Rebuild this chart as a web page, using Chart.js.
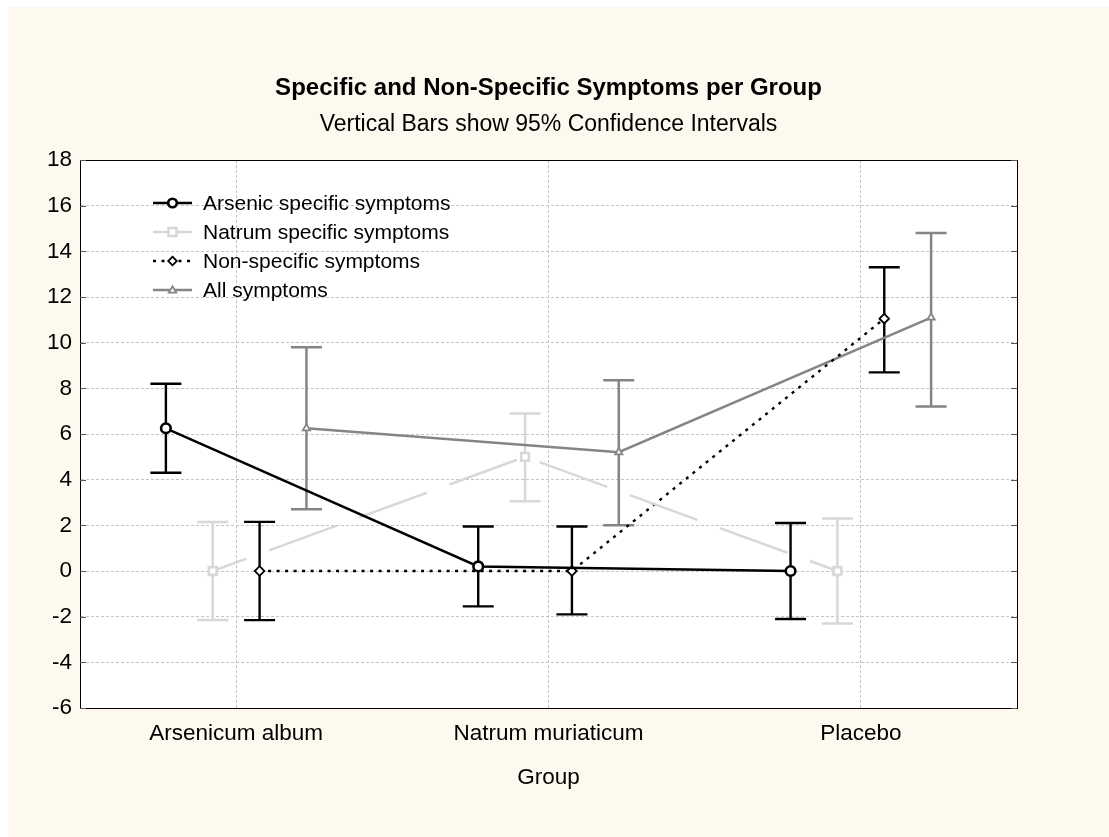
<!DOCTYPE html>
<html>
<head>
<meta charset="utf-8">
<script src="https://cdn.jsdelivr.net/npm/chart.js@4"></script>
<style>
  html, body { margin: 0; padding: 0; background: #ffffff; }
  #wrap { width: 1109px; height: 837px; }
</style>
</head>
<body>
<div id="wrap"><canvas id="symptoms"></canvas></div>
<script>
// Groups on the x axis
const groups = ['Arsenicum album', 'Natrum muriaticum', 'Placebo'];

// Means and 95% CI bounds per series
const arsenicMean  = [6.25, 0.2, 0.0];
const arsenicLow   = [4.3, -1.55, -2.1];
const arsenicHigh  = [8.2, 1.95, 2.1];

const natrumMean   = [0.0, 5.0, 0.0];
const natrumLow    = [-2.15, 3.05, -2.3];
const natrumHigh   = [2.15, 6.9, 2.3];

const nonSpecMean  = [0.0, 0.0, 11.05];
const nonSpecLow   = [-2.15, -1.9, 8.7];
const nonSpecHigh  = [2.15, 1.95, 13.3];

const allMean      = [6.25, 5.2, 11.1];
const allLow       = [2.7, 2.0, 7.2];
const allHigh      = [9.8, 8.35, 14.8];

const yTicks = [-6, -4, -2, 0, 2, 4, 6, 8, 10, 12, 14, 16, 18];

const FONT = '"Liberation Sans", Arial, sans-serif';

// each series sits a little to the side of its group
function points(means, shift) {
    return means.map((v, i) => ({ x: i + shift, y: v }));
}

const series = [
    { label: 'Arsenic specific symptoms', mean: arsenicMean, low: arsenicLow, high: arsenicHigh,
      shift: -0.225, color: '#000000', width: 2.4, dash: [], legendDash: [],
      point: 'circle', radius: 4.8, pw: 2.6 },
    { label: 'Natrum specific symptoms', mean: natrumMean, low: natrumLow, high: natrumHigh,
      shift: -0.075, color: '#d8d8d8', width: 2.5, dash: [72, 24], dashOffset: 36, legendDash: [],
      point: 'rect', radius: 5.5, pw: 2.6 },
    { label: 'Non-specific symptoms', mean: nonSpecMean, low: nonSpecLow, high: nonSpecHigh,
      shift: 0.075, color: '#000000', width: 2.4, dash: [3, 5.5], legendDash: [3, 5.5],
      point: 'rectRot', radius: 4.8, pw: 1.8 },
    { label: 'All symptoms', mean: allMean, low: allLow, high: allHigh,
      shift: 0.225, color: '#858585', width: 2.5, dash: [], legendDash: [],
      point: 'triangle', radius: 4.2, pw: 1.8 }
];

function drawShape(ctx, style, r, x, y) {
    if (style === 'circle') {
        ctx.arc(x, y, r, 0, Math.PI * 2);
    } else if (style === 'rect') {
        ctx.rect(x - r * 0.8, y - r * 0.8, r * 1.6, r * 1.6);
    } else if (style === 'rectRot') {
        ctx.moveTo(x, y - r); ctx.lineTo(x + r, y); ctx.lineTo(x, y + r); ctx.lineTo(x - r, y); ctx.closePath();
    } else {
        ctx.moveTo(x, y - r); ctx.lineTo(x + r, y + r * 0.7); ctx.lineTo(x - r, y + r * 0.7); ctx.closePath();
    }
}

// cream page, white plot box, frame with inner ticks
const background = {
    id: 'background',
    beforeDraw(chart) {
        const ctx = chart.ctx;
        const a = chart.chartArea;
        ctx.save();
        ctx.fillStyle = '#fef9ee';
        ctx.fillRect(8, 7, chart.width - 8, chart.height - 7);
        ctx.fillStyle = '#ffffff';
        ctx.fillRect(a.left, a.top, a.right - a.left, a.bottom - a.top);
        ctx.restore();
    },
    afterDraw(chart) {
        const ctx = chart.ctx;
        const a = chart.chartArea;
        const ys = chart.scales.y;
        ctx.save();
        ctx.strokeStyle = '#000000';
        ctx.lineWidth = 1;
        ctx.strokeRect(Math.round(a.left) + 0.5, Math.round(a.top) + 0.5,
            Math.round(a.right - a.left), Math.round(a.bottom - a.top));
        ctx.strokeStyle = '#555555';
        ctx.beginPath();
        yTicks.forEach(v => {
            const y = Math.round(ys.getPixelForValue(v)) + 0.5;
            ctx.moveTo(a.left, y); ctx.lineTo(a.left + 6, y);
            ctx.moveTo(a.right - 6, y); ctx.lineTo(a.right, y);
        });
        ctx.stroke();
        ctx.restore();
    }
};

// vertical confidence bars
const errorBars = {
    id: 'errorBars',
    beforeDatasetsDraw(chart) {
        const ctx = chart.ctx;
        const xs = chart.scales.x, ys = chart.scales.y;
        ctx.save();
        series.forEach(s => {
            ctx.strokeStyle = s.color;
            ctx.lineWidth = s.width;
            ctx.setLineDash([]);
            s.mean.forEach((m, i) => {
                const x = xs.getPixelForValue(i + s.shift);
                const y1 = ys.getPixelForValue(s.low[i]);
                const y2 = ys.getPixelForValue(s.high[i]);
                ctx.beginPath();
                ctx.moveTo(x, y1); ctx.lineTo(x, y2);
                ctx.moveTo(x - 15.5, y1); ctx.lineTo(x + 15.5, y1);
                ctx.moveTo(x - 15.5, y2); ctx.lineTo(x + 15.5, y2);
                ctx.stroke();
            });
        });
        ctx.restore();
    }
};

// legend inside the plot, top left
const innerLegend = {
    id: 'innerLegend',
    afterDatasetsDraw(chart) {
        const ctx = chart.ctx;
        const a = chart.chartArea;
        ctx.save();
        ctx.font = '21px ' + FONT;
        ctx.textBaseline = 'middle';
        series.forEach((s, i) => {
            const y = a.top + 43 + i * 29;
            const x0 = a.left + 73, x1 = a.left + 112;
            ctx.strokeStyle = s.color;
            ctx.lineWidth = s.width;
            ctx.setLineDash(s.legendDash);
            ctx.beginPath();
            ctx.moveTo(x0, y); ctx.lineTo(x1, y);
            ctx.stroke();
            ctx.setLineDash([]);
            ctx.fillStyle = '#ffffff';
            ctx.lineWidth = s.pw;
            ctx.beginPath();
            drawShape(ctx, s.point, s.radius * 0.9, a.left + 92.5, y);
            ctx.fill();
            ctx.stroke();
            ctx.fillStyle = '#000000';
            ctx.fillText(s.label, a.left + 123, y + 1);
        });
        ctx.restore();
    }
};

const ctx = document.getElementById('symptoms').getContext('2d');
new Chart(ctx, {
    type: 'line',
    data: {
        datasets: series.map(s => ({
            label: s.label,
            data: points(s.mean, s.shift),
            borderColor: s.color,
            borderWidth: s.width,
            borderDash: s.dash,
            borderDashOffset: s.dashOffset || 0,
            borderCapStyle: 'butt',
            pointStyle: s.point,
            pointRadius: s.radius,
            pointBorderWidth: s.pw,
            pointBorderColor: s.color,
            pointBackgroundColor: '#ffffff',
            tension: 0
        }))
    },
    options: {
        responsive: true,
        maintainAspectRatio: false,
        animation: false,
        layout: { padding: { left: 8, right: 92, top: 0, bottom: 44 } },
        plugins: {
            legend: { display: false },
            tooltip: { enabled: false },
            title: {
                display: true,
                fullSize: false,
                text: 'Specific and Non-Specific Symptoms per Group',
                color: '#000',
                font: { family: FONT, size: 24, weight: 'bold' },
                padding: { top: 73.6, bottom: 8.8 }
            },
            subtitle: {
                display: true,
                fullSize: false,
                text: 'Vertical Bars show 95% Confidence Intervals',
                color: '#000',
                font: { family: FONT, size: 23 },
                padding: { top: 0, bottom: 21.2 }
            }
        },
        scales: {
            x: {
                type: 'linear',
                min: -0.5,
                max: 2.5,
                afterBuildTicks: scale => { scale.ticks = groups.map((g, i) => ({ value: i })); },
                afterFit: scale => { scale.height = 85; },
                ticks: {
                    color: '#000',
                    font: { family: FONT, size: 22.5 },
                    padding: 12,
                    maxRotation: 0,
                    autoSkip: false,
                    callback: v => groups[v]
                },
                grid: { color: '#c4c4c4', drawTicks: false },
                border: { display: true, color: '#000', dash: [3, 2] },
                title: {
                    display: true,
                    text: 'Group',
                    color: '#000',
                    font: { family: FONT, size: 22.5 },
                    padding: { top: 10, bottom: 2 }
                }
            },
            y: {
                min: -6,
                max: 18,
                afterBuildTicks: scale => { scale.ticks = yTicks.map(v => ({ value: v })); },
                afterFit: scale => { scale.width = 72; },
                ticks: {
                    color: '#000',
                    font: { family: FONT, size: 22.5 },
                    padding: 8
                },
                grid: { color: '#c4c4c4', drawTicks: false },
                border: { display: true, color: '#000', dash: [3, 2] }
            }
        }
    },
    plugins: [background, errorBars, innerLegend]
});
</script>
</body>
</html>
